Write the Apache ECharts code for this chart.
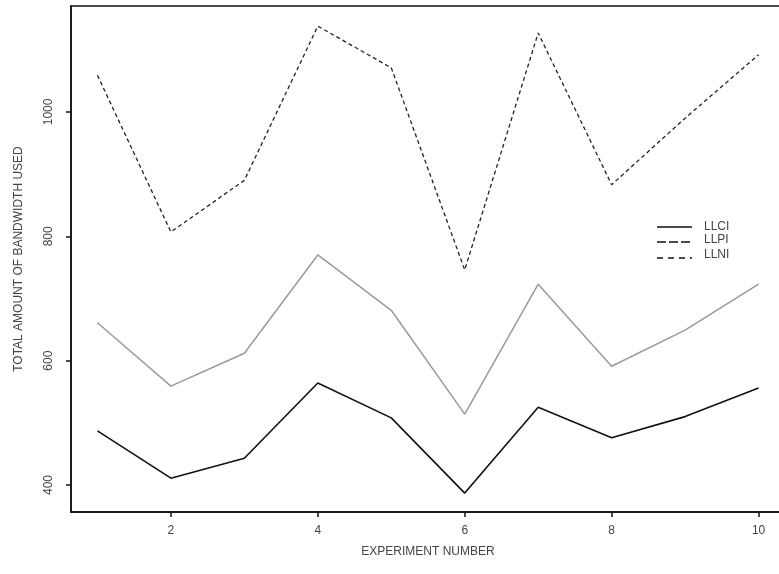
<!DOCTYPE html>
<html><head><meta charset="utf-8">
<script src="https://cdn.jsdelivr.net/npm/echarts@6/dist/echarts.min.js"></script>
<style>html,body{margin:0;padding:0;background:#fff}#c{width:779px;height:574px;overflow:hidden}</style>
</head><body><div id="c"></div>
<script>
const experiments = [1,2,3,4,5,6,7,8,9,10];
const llci = [487, 411, 443, 564, 508, 387, 525, 476, 510, 556];
const llpi = [661, 559, 612, 770, 681, 514, 723, 591, 649, 723];
const llni = [1059, 807, 890, 1138, 1071, 746, 1127, 883, 990, 1092];
const xTicks = [2,4,6,8,10];
const yTicks = [400,600,800,1000];
const seriesNames = ['LLCI','LLPI','LLNI'];

const font = 'Liberation Sans, Arial, sans-serif';
const chart = echarts.init(document.getElementById('c'));
const pairs = a => experiments.map((x,i)=>[x,a[i]]);
chart.setOption({
  animation:false,
  grid:{left:71, top:6, width:714, bottom:62, show:true, borderColor:'#111', borderWidth:1.5,
    containLabel:false, outerBoundsMode:'none'},
  xAxis:{type:'value', min:0.64, max:10.36,
    axisLine:{show:true, lineStyle:{color:'#111', width:1.5}}, splitLine:{show:false},
    axisTick:{show:true, inside:false, length:5, lineStyle:{color:'#111', width:1.5},
      customValues:xTicks},
    axisLabel:{color:'#444', fontSize:12, fontFamily:font, margin:13, customValues:xTicks},
    name:'EXPERIMENT NUMBER', nameLocation:'middle', nameGap:34,
    nameTextStyle:{color:'#444', fontSize:12, fontFamily:font}},
  yAxis:{type:'value', min:356.6, max:1170.4,
    axisLine:{show:true, lineStyle:{color:'#111', width:1.5}}, splitLine:{show:false},
    axisTick:{show:true, inside:false, length:5, lineStyle:{color:'#111', width:1.5}, customValues:yTicks},
    axisLabel:{color:'#444', fontSize:12, fontFamily:font, rotate:90, margin:16, customValues:yTicks,
      formatter:v=>String(v)},
    name:'TOTAL AMOUNT OF BANDWIDTH USED', nameLocation:'middle', nameGap:46,
    nameTextStyle:{color:'#444', fontSize:12, fontFamily:font}},
  series:[
    {name:seriesNames[0], type:'line', data:pairs(llci), symbol:'none', lineStyle:{color:'#111', width:1.6}},
    {name:seriesNames[1], type:'line', data:pairs(llpi), symbol:'none', lineStyle:{color:'#9a9a9a', width:1.5}},
    {name:seriesNames[2], type:'line', data:pairs(llni), symbol:'none', lineStyle:{color:'#222', width:1.3, type:[4,3]}}
  ],
  graphic:[
    {type:'line', shape:{x1:657,y1:227,x2:692,y2:227}, style:{stroke:'#111', lineWidth:1.5}},
    {type:'line', shape:{x1:657,y1:242,x2:692,y2:242}, style:{stroke:'#111', lineWidth:1.5, lineDash:[9,3]}},
    {type:'line', shape:{x1:657,y1:258,x2:692,y2:258}, style:{stroke:'#111', lineWidth:1.5, lineDash:[6,5]}},
    {type:'text', left:704, top:221, style:{text:seriesNames[0], fill:'#444', font:'12px '+font}},
    {type:'text', left:704, top:234, style:{text:seriesNames[1], fill:'#444', font:'12px '+font}},
    {type:'text', left:704, top:249, style:{text:seriesNames[2], fill:'#444', font:'12px '+font}}
  ]
});
</script></body></html>
